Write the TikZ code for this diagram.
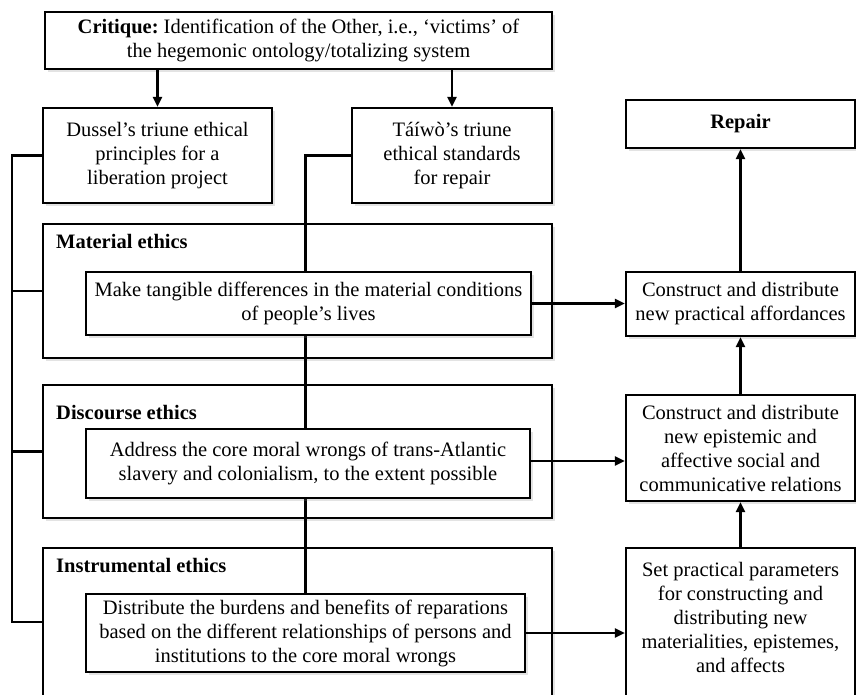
\documentclass[tikz,border=0pt]{standalone}
\usepackage{fontspec}
\setmainfont{Liberation Serif}
\usetikzlibrary{arrows.meta,shadows}
\pgfdeclarelayer{back}
\pgfdeclarelayer{mid}
\pgfsetlayers{back,mid,main}
\begin{document}
\begin{tikzpicture}[x=1pt,y=-1pt,
  box/.style={draw, line width=2.2pt, fill=white, align=center, inner sep=0pt,
    font=\fontsize{20.5}{24}\selectfont,
    drop shadow={shadow xshift=2.5pt, shadow yshift=-2.5pt, opacity=0.22}},
  txt/.style={align=center, inner sep=0pt, font=\fontsize{20.5}{24}\selectfont},
  conn/.style={line width=2.1pt},
  arr/.style={conn, -{Triangle[length=10pt,width=9pt]}},
  lab/.style={font=\fontsize{20.5}{24}\selectfont\bfseries, anchor=base west, inner sep=0pt}
]
\useasboundingbox (0,0) rectangle (856,694);
\clip (0,0) rectangle (856,694);
\begin{pgfonlayer}{back}
\fill[white] (0,0) rectangle (856,694);
\end{pgfonlayer}

% top boxes
\node[box, minimum width=507pt, minimum height=57pt] (crit) at (298.5,40.5)
  {\textbf{Critique:}\ Identification of the Other, i.e., ‘victims’ of\\ the hegemonic ontology/totalizing system};
\node[box, minimum width=229pt, minimum height=95pt] (dussel) at (157.5,155.5)
  {Dussel’s triune ethical\\ principles for a\\ liberation project};
\node[box, minimum width=200pt, minimum height=95pt] (taiwo) at (452,155.5)
  {Táíwò’s triune\\ ethical standards\\ for repair};

% outer ethics boxes
\begin{pgfonlayer}{back}
\node[box, minimum width=509pt, minimum height=134pt] (matout) at (297.5,291) {};
\node[box, minimum width=509pt, minimum height=133pt] (discout) at (297.5,451.5) {};
\node[box, minimum width=509pt, minimum height=162pt] (instout) at (297.5,629) {};
\end{pgfonlayer}
\node[lab] (matlab) at (56,248) {Material ethics};
\node[lab] (disclab) at (56,419) {Discourse ethics};
\node[lab] (instlab) at (56,572) {Instrumental ethics};

% inner boxes
\node[box, minimum width=445pt, minimum height=63pt] (matin) at (308.5,303.5)
  {Make tangible differences in the material conditions\\ of people’s lives};
\node[box, minimum width=444pt, minimum height=69pt] (discin) at (308,463.5)
  {Address the core moral wrongs of trans-Atlantic\\ slavery and colonialism, to the extent possible};
\node[box, minimum width=439pt, minimum height=78pt] (instin) at (305.5,633)
  {Distribute the burdens and benefits of reparations\\ based on the different relationships of persons and\\ institutions to the core moral wrongs};

% right column
\node[box, minimum width=229pt, minimum height=48pt, font=\fontsize{20.5}{24}\selectfont\bfseries] (repair) at (740.5,124) {Repair};
\node[box, minimum width=229pt, minimum height=64pt] (afford) at (740.5,304)
  {Construct and distribute\\ new practical affordances};
\node[box, minimum width=229pt, minimum height=106pt] (rel) at (740.5,448)
  {Construct and distribute\\ new epistemic and\\ affective social and\\ communicative relations};
\node[box, minimum width=229pt, minimum height=160pt] (setp) at (740.5,628) {};
\node[txt] (settxt) at (740.5,617)
  {Set practical parameters\\ for constructing and\\ distributing new\\ materialities, epistemes,\\ and affects};

% connectors
\coordinate (tk) at (12,622);
\coordinate (tkm) at (12,291);
\coordinate (tkd) at (12,451.5);
\begin{pgfonlayer}{mid}
\draw[conn] (dussel.west) -| (tk) -- (tk -| instout.west);
\draw[conn] (tkm) -- (tkm -| matout.west);
\draw[conn] (tkd) -- (tkd -| discout.west);
\draw[conn] (taiwo.west) -| (instin.north);
\end{pgfonlayer}

\coordinate (da) at (530,461);
\draw[arr] (crit.south -| dussel.north) -- (dussel.north);
\draw[arr] (crit.south -| taiwo.north) -- (taiwo.north);
\draw[arr] (matin.east) -- (matin.east -| afford.west);
\draw[arr] (da) -- (da -| rel.west);
\draw[arr] (instin.east) -- (instin.east -| setp.west);
\draw[arr] (afford.north) -- (repair.south);
\draw[arr] (rel.north) -- (afford.south);
\draw[arr] (setp.north) -- (rel.south);
\end{tikzpicture}
\end{document}
